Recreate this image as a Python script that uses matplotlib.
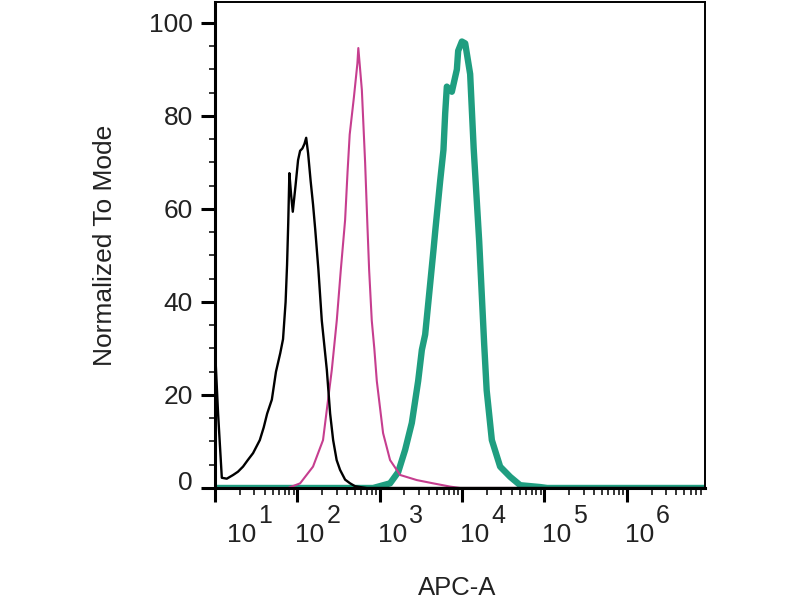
import numpy as np
import matplotlib
matplotlib.use("Agg")
import matplotlib.pyplot as plt
from matplotlib.ticker import FixedLocator, NullFormatter
import matplotlib.transforms as mtransforms

plt.rcParams['font.family'] = ['Liberation Sans', 'DejaVu Sans']

# ---------------- data ----------------
# Unstained / isotype control (black)
black_x = [10, 10.9, 12.1, 13.9, 16.6, 19, 21.9, 25, 29, 35, 39, 43, 49, 55, 62,
           67, 72, 75, 77.5, 80, 84, 88, 95, 102, 108, 115, 122, 128, 135, 145,
           155, 165, 180, 198, 228, 250, 272, 300, 330, 380, 437, 500, 578, 700,
           1e4, 1e7]
black_y = [30, 16, 2.2, 2.0, 2.8, 3.5, 4.6, 6, 7.5, 10.3, 13, 16, 19, 25, 29,
           32, 40, 48, 57, 67.7, 63, 59.4, 65, 70.5, 72.5, 73, 74, 75.3, 72, 66,
           61, 55.5, 47, 36, 25.4, 16, 10.3, 6, 3.9, 1.8, 1.0, 0.4, 0.2, 0,
           0, 0]

# Magenta sample
mag_x = [10, 77, 108, 155, 205, 262, 301, 337, 380, 407, 432, 486, 536, 550,
         607, 665, 709, 744, 801, 860, 922, 1099, 1336, 1770, 2824, 4460, 7170,
         9480, 1e7]
mag_y = [0, 0, 1, 4.6, 10.3, 25.4, 36, 46.9, 57.6, 68, 76, 84, 91.3, 94.6,
         85.6, 70, 56.5, 46.9, 36, 30, 23, 11.8, 6, 2.8, 1.7, 1.0, 0.3,
         0, 0]

# Green (teal) sample
grn_x = [10, 832, 1336, 1675, 2036, 2455, 2930, 3250, 3565, 4500, 4740, 5420,
         5945, 6240, 6535, 7515, 8650, 8970, 9950, 10920, 12540, 13840, 16150,
         18550, 19900, 23000, 29000, 38400, 50800, 89000, 108000, 1e7]
grn_y = [0, 0, 1, 3.4, 8.2, 14, 23, 29.7, 33, 51.2, 55.5, 66,
         72.7, 80.6, 86.3, 85.2, 90, 94, 96, 95.6, 89, 73, 53,
         31, 21, 10.3, 4.6, 2.4, 0.6, 0.2, 0, 0]

y_major = [0, 20, 40, 60, 80, 100]
y_minor = [5, 10, 15, 25, 30, 35, 45, 50, 55, 65, 70, 75, 85, 90, 95]
x_exponents = [1, 2, 3, 4, 5, 6]

# ---------------- figure ----------------
fig = plt.figure(figsize=(8, 6), dpi=100)
ax = fig.add_axes([215/800, 1-488/600, 490/800, 486/600])

ax.plot(grn_x, grn_y, color='#1f9e80', lw=4.6, solid_joinstyle='round', zorder=2)
ax.plot(mag_x, mag_y, color='#c63e8f', lw=1.5, zorder=2.1)
ax.plot(black_x, black_y, color='black', lw=1.7, zorder=2.2)

ax.set_xscale('log')
ax.set_xlim(10, 10**6.95)
ax.set_ylim(0, 104.5)

# spines
for s in ['left', 'bottom']:
    ax.spines[s].set_linewidth(2.2)
for s in ['top', 'right']:
    ax.spines[s].set_linewidth(1.4)

# y ticks
ax.yaxis.set_major_locator(FixedLocator(y_major))
ax.yaxis.set_minor_locator(FixedLocator(y_minor))
ax.set_yticklabels([str(v) for v in y_major])
ax.tick_params(axis='y', which='major', length=10, width=2.2, pad=6,
               labelsize=19, labelcolor='#222222')
ax.tick_params(axis='y', which='minor', length=4, width=1.1)
# shift the "0" label upward
lbl0 = ax.get_yticklabels()[0]
lbl0.set_transform(lbl0.get_transform() +
                   mtransforms.ScaledTranslation(0, 8/100, fig.dpi_scale_trans))

# x ticks
major_x = [10.0**e for e in x_exponents]
minor_x = [m * 10.0**e for e in range(1, 7) for m in range(2, 10)]
ax.xaxis.set_major_locator(FixedLocator(major_x))
ax.xaxis.set_minor_locator(FixedLocator(minor_x))
ax.xaxis.set_major_formatter(NullFormatter())
ax.xaxis.set_minor_formatter(NullFormatter())
ax.tick_params(axis='x', which='major', length=10, width=2.2)
ax.tick_params(axis='x', which='minor', length=5, width=1.1)

# x tick labels as 10 + raised exponent (same-ish size as base)
pt = 72/100
for e in x_exponents:
    dx = -2 if e > 1 else 12
    ax.annotate('10', xy=(10.0**e, 0), xycoords=('data', 'axes fraction'),
                xytext=(dx*pt, -54*pt), textcoords='offset points',
                ha='left', va='baseline', fontsize=19, color='#222222',
                annotation_clip=False)
    ax.annotate(str(e), xy=(10.0**e, 0), xycoords=('data', 'axes fraction'),
                xytext=((dx+31)*pt, -35*pt), textcoords='offset points',
                ha='left', va='baseline', fontsize=18, color='#222222',
                annotation_clip=False)

ax.set_xlabel('APC-A', fontsize=18.5, color='#222222')
ax.xaxis.set_label_coords(0.495, (488-588)/486)
ax.xaxis.label.set_va('center')
ax.set_ylabel('Normalized To Mode', fontsize=19, color='#222222')
ax.yaxis.set_label_coords((105-215)/490, 0.5)
ax.yaxis.label.set_va('center')

fig.savefig('out.png', dpi=100, facecolor='white')
